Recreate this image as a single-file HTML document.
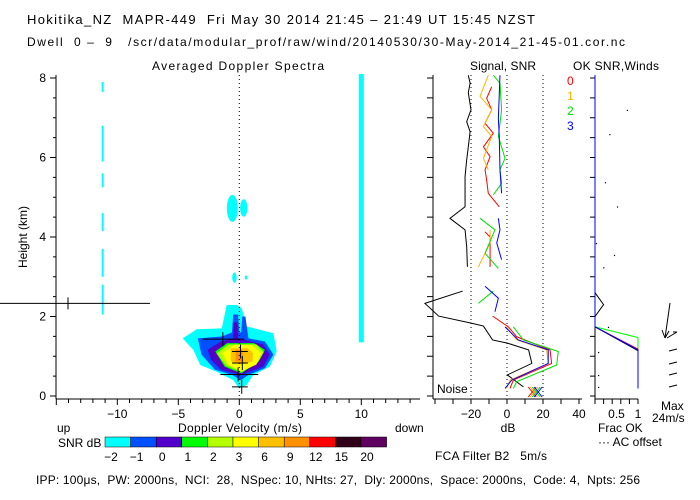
<!DOCTYPE html>
<html><head><meta charset="utf-8"><style>
html,body{margin:0;padding:0;background:#fff;}
svg{display:block;font-family:"Liberation Sans",sans-serif;}
text{font-size:12px;white-space:pre;}
</style></head><body>
<svg id="c" width="700" height="500" viewBox="0 0 700 500" xmlns="http://www.w3.org/2000/svg">
<text x="27" y="24" style="font-size:13px" textLength="508" lengthAdjust="spacing">Hokitika_NZ  MAPR-449  Fri May 30 2014 21:45 – 21:49 UT 15:45 NZST</text>
<text x="27" y="46" textLength="598" lengthAdjust="spacing">Dwell  0 –  9   /scr/data/modular_prof/raw/wind/20140530/30-May-2014_21-45-01.cor.nc</text>
<text x="152" y="70" textLength="172" lengthAdjust="spacing">Averaged Doppler Spectra</text>
<text x="470" y="70" textLength="66" lengthAdjust="spacing">Signal, SNR</text>
<text x="573" y="70" textLength="86" lengthAdjust="spacing">OK SNR,Winds</text>
<text x="27" y="237" transform="rotate(-90 27 237)" text-anchor="middle">Height (km)</text>
<text x="178" y="432" textLength="124" lengthAdjust="spacing">Doppler Velocity (m/s)</text>
<text x="57" y="432">up</text>
<text x="395" y="432">down</text>
<text x="58" y="447">SNR dB</text>
<text x="508" y="432" text-anchor="middle">dB</text>
<text x="435" y="460" textLength="112" lengthAdjust="spacing">FCA Filter B2   5m/s</text>
<text x="598" y="432">Frac OK</text>
<text x="598" y="446">··· AC offset</text>
<text x="661" y="410">Max</text>
<text x="652" y="422">24m/s</text>
<text x="437" y="393">Noise</text>
<text x="36" y="484" textLength="604" lengthAdjust="spacing">IPP: 100μs,  PW: 2000ns,  NCI:  28,  NSpec: 10, NHts: 27,  Dly: 2000ns,  Space: 2000ns,  Code: 4,  Npts: 256</text>
<g id="g"></g>
</svg>
<script>
// ---- data ----
const hTicks=[0,2,4,6,8];
const vTicks=[-10,-5,0,5,10];
const dbTicks=[-20,0,20,40];
const fracTicks=[0.5,1];
const cbLabels=["-2","-1","0","1","2","3","6","9","12","15","20"];
const cbColors=["#00ffff","#0050ff","#5000c8","#00ff00","#b4ff00","#ffff00","#ffc000","#ff9000","#ff0000","#300018","#600060"];
const noiseH=[8.07,7.87,7.63,7.2,6.9,6.65,6.27,5.94,5.52,4.76,4.47,4.18,3.76,3.25];
const noiseDb=[-21.5,-20.5,-21.5,-20,-22.4,-20.5,-21.5,-22.4,-23.3,-23.3,-31.7,-23.3,-22.4,-22];
const noise2H=[2.64,2.33,2.01,1.83,1.76,1.41,1.33,1.16,0.82,0.53,0.23];
const noise2Db=[-24.6,-45.6,-38,-19.6,-13.1,-8,0.2,12,13.8,0.2,9.1];
const redH=[[7.78,7.49,7.2,6.86,6.61,6.27,6.02,5.69,5.43,5.1,4.76],[4.13,4.0,3.25],[2.01,1.74,1.49,1.16,0.82,0.40,0.19]];
const redDb=[[-8.5,-11.3,-8.5,-12.2,-7.6,-13.1,-9.4,-12.2,-11.3,-10.4,-4.3],[-12.2,-9.4,-9.4],[-8,0.8,5.4,23.9,24.8,3.5,1.7]];
const orangeH=[[8.07,7.54,7.2,6.78,6.53,5.98,5.69],[4.18,3.85,3.25],[1.74,1.41,1.16,0.82,0.40,0.19]];
const orangeDb=[[-10.4,-15,-8.5,-13.1,-8.5,-13.1,-10.4],[-9.4,-9.4,-15.9],[-0.2,5.4,22,22.9,1.7,-0.2]];
const greenH=[[8.07,7.87,7.2,6.53,5.98,5.69,5.35,5.06],[4.47,4.18,3.59,3.21],[2.64,2.33],[1.74,1.41,1.12,0.78,0.36,0.19]];
const greenDb=[[-7.6,-3.9,-3,-4.8,-1.1,-3.9,-3,-7.6],[-15,-6.7,-12.2,-4.8],[-7.6,-15.9],[3.5,9.1,28.5,27.6,5.4,3.5]];
const blueH=[[8.07,6.98,6.53,5.69,5.1],[4.47,4.18,3.85,3.43],[2.76,2.46,2.12],[1.74,1.41,1.16,0.82,0.40,0.19]];
const blueDb=[[-3.9,-4.8,-4.3,-3.9,-3],[-4.8,-3.9,-5.7,-3],[-12.2,-4.8,-6.7],[-1.1,6.3,22.9,22.9,2.6,-1.1]];
const fracSets=[{c:"#00ff00",f:[0,1,1],h:[1.74,1.47,1.16]},{c:"#ff0000",f:[0,1,1],h:[1.74,1.18,0.19]},{c:"#000",f:[0,1],h:[1.74,1.14]},{c:"#0000ff",f:[0,1,1],h:[1.74,1.16,0.19]}];
const fracBumpF=[0,0.2,0];
const fracBumpH=[2.6,2.3,2.0];
const dotF=[0.74,0.33,0.23,0.51,0.02,0.44,0.19,0.3,0.07,0.07,0.07];
const dotH=[7.2,6.59,5.38,4.77,3.85,3.55,3.24,1.74,1.11,0.53,0.23];
// spectrum contours [velocity, height]
const contourColors=["#00ffff","#0050ff","#5000c8","#00ff00","#b4ff00","#ffff00","#ffc000","#ff9000"];
const contourV=[[-4.64,-3.49,-1.44,-1.03,-0.16,0.2,0.6,2.8,3.06,2.5,1.15,0.6,0,-0.5,-1.86,-3.2,-3.77],
[-3.4,-1.4,-0.6,-0.5,-0.1,0,0.15,0.25,0.5,0.75,2.1,2.8,2.1,0.75,0.14,-0.6,-2,-3.1],
[-2.6,-1.5,-0.5,-0.45,-0.15,-0.1,1.96,2.5,1.96,0.17,-1.5,-2.3],
[-1.97,-1,1.2,2.1,1.6,0.17,-1.2],
[-1.85,-0.9,1.4,2.0,1.5,0.17,-1.1],
[-1.4,-0.4,0.97,1.8,1.4,0.17,-0.9],
[-0.7,0.7,1.1,1.1,0.17,-0.7],
[-0.3,0.25,0.33,-0.3]];
const contourH=[[1.45,1.68,1.7,2.29,2.29,2.2,1.75,1.58,1.12,0.74,0.53,0.28,0.19,0.40,0.61,0.78,1.16],
[1.45,1.5,1.6,2.05,2.05,1.6,1.6,2.0,2.0,1.45,1.37,1.04,0.7,0.53,0.40,0.53,0.66,1.04],
[1.16,1.37,1.45,1.85,1.85,1.45,1.3,1.04,0.74,0.53,0.66,0.91],
[1.12,1.33,1.33,1.16,0.87,0.57,0.74],
[1.08,1.3,1.3,1.1,0.84,0.6,0.76],
[1.08,1.29,1.29,1.08,0.79,0.62,0.79],
[1.2,1.2,1.08,0.87,0.79,0.87],
[1.16,1.16,0.87,0.87]];
const dashH=[[7.9,7.65],[6.8,5.9],[5.6,5.25],[4.6,4.15],[3.7,3.0],[2.8,2.05]];
const dashV=-11.2;
const stripeV=10, stripeTop=8.1, stripeBot=1.35;
const blobV=[-0.57,0.36,-0.4,0.55], blobH=[4.72,4.73,2.98,2.98], blobRw=[0.45,0.3,0.18,0.1], blobRh=[0.34,0.22,0.13,0.05];
const crossV=[[-3,0.4],[-0.6,0.7],[-0.6,0.7],[-1.55,1.55],[-0.6,0.7]];
const crossH=[1.43,1.12,0.83,0.54,0.23];
const crossMarkV=[-1.35,0.1,0.25,-0.1,0.2];
// ---- scales ----
const yH=h=>396-h*39.75;
const xV=v=>239.3+v*12.2;
const xDb=d=>507+d*1.8;
const xF=f=>595+f*43;
const NS="http://www.w3.org/2000/svg";
const G=document.getElementById('g');
function mk(t,a,name){const e=document.createElementNS(NS,t);for(const k in a)e.setAttribute(k,a[k]);


G.appendChild(e);return e;}
function ln(x1,y1,x2,y2,name,st){return mk('line',{x1,y1,x2,y2,stroke:(st&&st.c)||'#000','stroke-width':(st&&st.w)||1,'stroke-dasharray':(st&&st.d)||'none'},name);}
function pl(xs,ys,c,name){mk('polyline',{points:xs.map((x,i)=>x+','+ys[i]).join(' '),fill:'none',stroke:c,'stroke-width':1},name);}
// spectra contours
contourV.forEach((vs,k)=>{mk('polygon',{points:vs.map((v,i)=>xV(v)+','+yH(contourH[k][i])).join(' '),fill:contourColors[k]},'spectrum-contour-'+k);});
blobV.forEach((v,i)=>mk('ellipse',{cx:xV(v),cy:yH(blobH[i]),rx:blobRw[i]*12.2,ry:blobRh[i]*39.75,fill:'#00ffff'},'spectrum-blob'));
mk('rect',{x:xV(stripeV)-2.5,y:yH(stripeTop),width:5,height:yH(stripeBot)-yH(stripeTop),fill:'#00ffff'},'clutter-stripe');
dashH.forEach(s=>mk('rect',{x:xV(dashV)-1,y:yH(s[0]),width:2,height:yH(s[1])-yH(s[0]),fill:'#00ffff'},'dashed-spectrum-line'));
ln(xV(0),75,xV(0),399,'zero-velocity-line',{d:'1,3'});
crossH.forEach((h,i)=>{ln(xV(crossV[i][0]),yH(h),xV(crossV[i][1]),yH(h),'moment-cross-h');ln(xV(crossMarkV[i]),yH(h)-7,xV(crossMarkV[i]),yH(h)+7,'moment-cross-v');});
ln(0,yH(2.33),150,yH(2.33),'ref-line');ln(68,yH(2.33)-6,68,yH(2.33)+6,'ref-tick');
// main axes
ln(56,75,56,399,'y-axis');ln(56,399,420,399,'x-axis');
for(let h=0;h<=8;h+=0.5){ln(56,yH(h),h%2==0?50:53,yH(h),'y-tick');}
hTicks.forEach(h=>{const t=mk('text',{x:46,y:yH(h)+4,'text-anchor':'end'},'y-tick-label');t.textContent=h;});
for(let v=-15;v<=14;v++){ln(xV(v),399,xV(v),v%5==0?405:403,'x-tick');}
vTicks.forEach(v=>{const t=mk('text',{x:xV(v),y:418,'text-anchor':'middle'},'x-tick-label');t.textContent=v==0?'0':(v<0?'−'+(-v):v);});
// colorbar
cbColors.forEach((c,i)=>{mk('rect',{x:105+i*25.6,y:437,width:25.6,height:10,fill:c,stroke:'#000','stroke-width':0.5},'colorbar-cell');
const t=mk('text',{x:111+i*25.6,y:461,'text-anchor':'middle'},'colorbar-label');t.textContent=cbLabels[i].replace('-','−');});
// signal panel
ln(433,75,433,399,'signal-y-axis');ln(433,399,582,399,'signal-x-axis');
for(let h=0;h<=8;h+=0.5)ln(433,yH(h),427,yH(h),'signal-y-tick');
for(let d=-40;d<=40;d+=10)ln(xDb(d),399,xDb(d),404,'signal-x-tick');
[-20,0,20].forEach(d=>ln(xDb(d),75,xDb(d),399,'signal-ref-line',{d:'1,3'}));
dbTicks.forEach(d=>{const t=mk('text',{x:xDb(d),y:418,'text-anchor':'middle'},'signal-tick-label');t.textContent=d<0?'−'+(-d):d;});
pl(noiseDb.map(xDb),noiseH.map(yH),'#000','noise-line');
pl(noise2Db.map(xDb),noise2H.map(yH),'#000','noise-line-lower');
[[redH,redDb,'#ff0000','snr-beam-0'],[orangeH,orangeDb,'#ffb400','snr-beam-1'],[greenH,greenDb,'#00e000','snr-beam-2'],[blueH,blueDb,'#0000ff','snr-beam-3']].forEach((s,k)=>{
 s[0].forEach((hs,j)=>pl(s[1][j].map(xDb),hs.map(yH),s[2],s[3]));
 const x0=xDb(14)+k*2,y0=392;ln(x0-4,y0-5,x0+4,y0+5,'bottom-x-mark',{c:s[2]});ln(x0-4,y0+5,x0+4,y0-5,'bottom-x-mark',{c:s[2]});});
['0','1','2','3'].forEach((s,i)=>{const t=mk('text',{x:567,y:85+i*15,style:'fill:'+['#ff0000','#ffb400','#00e000','#0000ff'][i]},'beam-legend-'+s);t.textContent=s;});
// right panel
ln(595,75,595,399,'frac-y-axis');ln(595,399,638,399,'frac-x-axis');
for(let h=0;h<=8;h+=0.5)ln(595,yH(h),590,yH(h),'frac-y-tick');
for(let f=0;f<=1.001;f+=0.2)ln(xF(f),399,xF(f),404,'frac-x-tick');
fracTicks.forEach(f=>{const t=mk('text',{x:xF(f),y:418,'text-anchor':'middle'},'frac-tick-label');t.textContent=f;});
ln(xF(0),75,xF(0),yH(1.74),'frac-zero-line',{c:'#0000ff'});
fracSets.forEach(s=>pl(s.f.map(xF),s.h.map(yH),s.c,'frac-ok-line'));
pl(fracBumpF.map(xF),fracBumpH.map(yH),'#000','frac-bump');
dotF.forEach((f,i)=>mk('rect',{x:xF(f),y:yH(dotH[i]),width:1.2,height:1.2,fill:'#000'},'frac-dot'));
// winds
ln(670,303,665,338,'wind-arrow');ln(665,338,662,330,'wind-arrow-head');ln(665,338,669,331,'wind-arrow-head');
ln(667,338,677,332,'wind-arrow');ln(677,332,673,332,'wind-arrow-head');
[350,363,374,386].forEach(y=>{ln(669,y+1,677,y-1,'wind-arrow');});
</script>
</body></html>
